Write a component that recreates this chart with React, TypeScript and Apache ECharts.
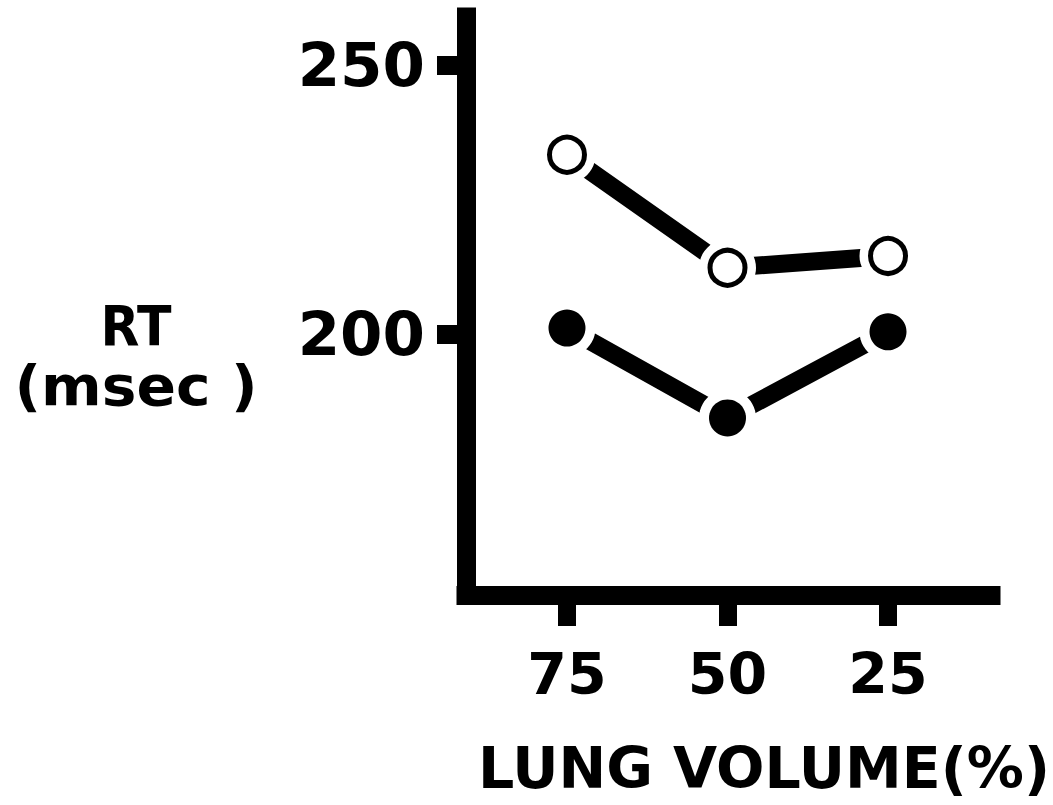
import React, { useEffect, useRef } from "react";
import * as echarts from "echarts";

const lungVolume = [75, 50, 25];
const openRT = [233.3, 212.3, 214.5];
const filledRT = [201.1, 184.4, 200.4];
const yTicks = [200, 250];
const xTicks = [75, 50, 25];
const yTitle = ["RT", "(msec )"];
const xTitle = "LUNG VOLUME(%)";

const FONT = "DejaVu Sans";

export default function App() {
  const ref = useRef<HTMLDivElement>(null);
  useEffect(() => {
    if (!ref.current) return;
    const chart = echarts.init(ref.current, undefined, { renderer: "svg" });
    const openPts = lungVolume.map((x, i) => [x, openRT[i]]);
    const filledPts = lungVolume.map((x, i) => [x, filledRT[i]]);
    chart.setOption({
      animation: false,
      backgroundColor: "#ffffff",
      grid: { left: 466, right: 62, top: 17, bottom: 210, containLabel: false },
      xAxis: {
        type: "value",
        inverse: true,
        min: 8.96,
        max: 90.73,
        splitLine: { show: false },
        axisLine: { show: true, onZero: false, lineStyle: { color: "#000", width: 19, cap: "square" } },
        axisTick: { show: true, length: 31, customValues: xTicks, lineStyle: { color: "#000", width: 18 } },
        axisLabel: {
          customValues: xTicks,
          margin: 50,
          color: "#000",
          fontFamily: FONT,
          fontWeight: "bold",
          fontSize: 57,
        },
      },
      yAxis: {
        type: "value",
        min: 151.5,
        max: 258.9,
        splitLine: { show: false },
        axisLine: { show: true, onZero: false, lineStyle: { color: "#000", width: 19, cap: "square" } },
        axisTick: { show: true, length: 29, customValues: yTicks, lineStyle: { color: "#000", width: 19 } },
        axisLabel: {
          customValues: yTicks,
          margin: 41,
          color: "#000",
          fontFamily: FONT,
          fontWeight: "bold",
          fontSize: 61,
          padding: [8, 0, 0, 0],
        },
      },
      series: [
        {
          type: "line",
          data: openPts,
          symbol: "none",
          z: 2,
          lineStyle: { color: "#000", width: 18, cap: "butt" },
        },
        {
          type: "line",
          data: filledPts,
          symbol: "none",
          z: 2,
          lineStyle: { color: "#000", width: 18, cap: "butt" },
        },
        {
          type: "scatter",
          data: openPts.concat(filledPts),
          symbol: "circle",
          symbolSize: 57,
          z: 3,
          itemStyle: { color: "#fff", opacity: 1 },
        },
        {
          type: "scatter",
          data: openPts,
          symbol: "circle",
          symbolSize: 35,
          z: 4,
          itemStyle: { color: "#fff", borderColor: "#000", borderWidth: 5, opacity: 1 },
        },
        {
          type: "scatter",
          data: filledPts,
          symbol: "circle",
          symbolSize: 37,
          z: 4,
          itemStyle: { color: "#000", opacity: 1 },
        },
      ],
      graphic: [
        {
          type: "text",
          x: 136,
          y: 326,
          scaleX: 0.92,
          style: {
            text: yTitle[0],
            fill: "#000",
            font: `bold 55px "${FONT}"`,
            textAlign: "center",
            textVerticalAlign: "middle",
          },
        },
        {
          type: "text",
          x: 136,
          y: 386,
          scaleX: 1.06,
          style: {
            text: yTitle[1],
            fill: "#000",
            font: `bold 55px "${FONT}"`,
            textAlign: "center",
            textVerticalAlign: "middle",
          },
        },
        {
          type: "text",
          x: 764,
          y: 768,
          style: {
            text: xTitle,
            fill: "#000",
            font: `bold 57px "${FONT}"`,
            textAlign: "center",
            textVerticalAlign: "middle",
          },
        },
      ],
    });
    return () => chart.dispose();
  }, []);
  return (
    <div
      ref={ref}
      style={{ position: "fixed", left: 0, top: 0, width: 1053, height: 805, background: "#fff" }}
    />
  );
}
